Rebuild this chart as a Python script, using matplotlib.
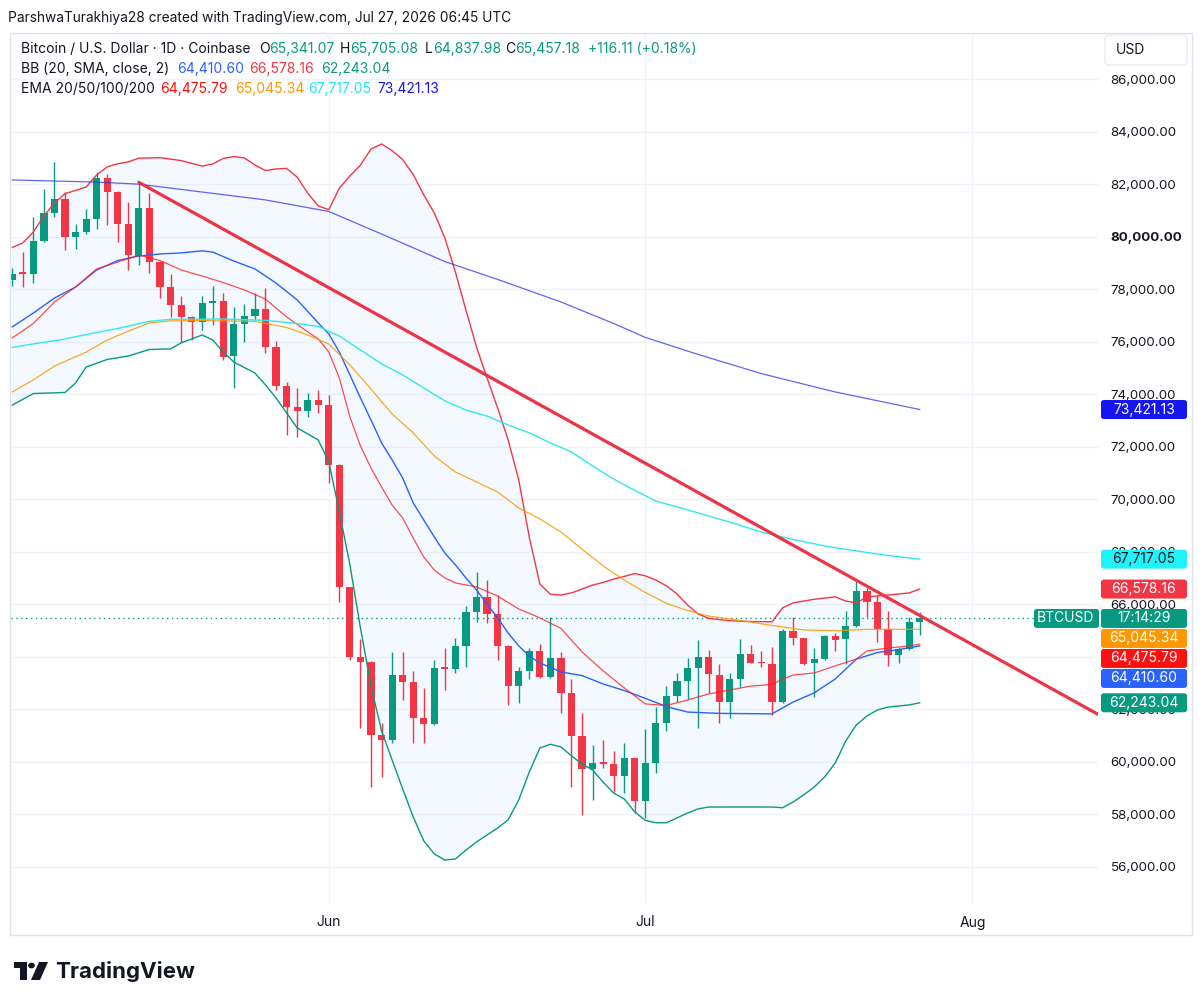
import numpy as np
import matplotlib.pyplot as plt
from matplotlib.patches import FancyBboxPatch, Polygon, Circle, Rectangle

plt.rcParams['font.family'] = ['Inter', 'DejaVu Sans']

W, H = 1204, 1005
GREEN = '#089981'
RED = '#F23645'
TEXT = '#131722'

# daily candles, day 0 = May 2, last candle = Jul 27
opens = [78360, 78670, 78590, 79860, 80920, 81450, 80010, 80200, 80670, 82230,
         81720, 80490, 79270, 81090, 79060, 78100, 77400, 76960, 76770, 77490,
         77570, 75470, 76670, 77000, 77250, 75820, 74320, 73530, 73370, 73780,
         73590, 71310, 66650, 64000, 63790, 61020, 60830, 63300, 63050, 61650,
         61440, 63590, 63520, 64410, 65720, 66260, 65620, 64420, 62880, 63470,
         64230, 63220, 63940, 62630, 60980, 59710, 60000, 59910, 59450, 60130,
         58510, 59940, 61460, 62500, 63070, 63560, 64000, 63300, 62260, 63150,
         64090, 63790, 63720, 62260, 64980, 64700, 63750, 63900, 64790, 64660,
         65180, 66520, 66070, 65040, 64070, 64290, 65341.07]
highs = [78820, 79440, 80770, 81820, 82840, 81720, 80490, 81060, 82460, 82400,
         81750, 81320, 82080, 81660, 79100, 78580, 77760, 76980, 77760, 78130,
         77850, 77340, 77440, 77850, 78040, 76040, 74460, 74230, 74040, 74170,
         73980, 71350, 66660, 64660, 63820, 61460, 64190, 64190, 63470, 62800,
         63870, 64320, 64700, 65930, 67240, 66920, 66350, 64440, 63600, 64320,
         64480, 65530, 64190, 63140, 61840, 60630, 60830, 60420, 60700, 60140,
         61230, 62090, 62880, 63390, 63940, 64640, 64260, 63710, 63370, 64660,
         64450, 64230, 64360, 65040, 65530, 64720, 64320, 64830, 64890, 65750,
         66900, 66610, 66350, 65740, 64360, 65500, 65705.08]
lows = [78130, 78100, 78230, 79800, 80770, 79500, 79540, 80120, 80300, 80450,
        79820, 78740, 78930, 78610, 77660, 76960, 76010, 76070, 76450, 76640,
        75310, 74230, 76010, 76830, 75560, 74170, 72450, 72390, 73150, 73280,
        70610, 66100, 63870, 61270, 59050, 59430, 60700, 62350, 60700, 60700,
        61400, 62730, 63370, 63620, 65330, 65300, 63870, 62160, 62250, 63140,
        63180, 63200, 61840, 59050, 57970, 58540, 59750, 58860, 58790, 58040,
        57840, 59560, 61180, 62260, 62380, 61270, 62610, 61460, 61650, 62860,
        63750, 63600, 61780, 62240, 64450, 63690, 62450, 63870, 64230, 63720,
        65120, 65530, 64570, 63650, 63750, 64260, 64837.98]
closes = [78590, 78590, 79860, 80920, 81450, 80010, 80200, 80670, 82230, 81720,
          80490, 79310, 81090, 79060, 78100, 77400, 76960, 76770, 77490, 77570,
          75440, 76670, 77000, 77250, 75820, 74320, 73530, 73370, 73780, 73590,
          71310, 66650, 64000, 63810, 61020, 60830, 63300, 63050, 61650, 61440,
          63560, 63540, 64410, 65720, 66260, 65620, 64420, 62880, 63470, 64230,
          63220, 63940, 62630, 60980, 59710, 59960, 59910, 59450, 60130, 58510,
          59940, 61460, 62500, 63070, 63560, 64000, 63330, 62260, 63150, 64090,
          63770, 63750, 62260, 64990, 64700, 63720, 63900, 64790, 64640, 65180,
          66520, 66070, 65040, 64070, 64290, 65310, 65457.18]

# Bollinger Bands (20, SMA, close, 2)
bb_up_days = [0, 1, 2, 3, 4, 5, 6, 7, 8, 9, 10, 11, 12, 14, 16, 18, 19, 20, 21, 22,
              23, 24, 25, 26, 27, 28, 29, 30, 31, 32, 33, 34, 35, 36, 37, 38, 39, 40,
              41, 42, 43, 44, 45, 46, 47, 48, 49, 50, 51, 52, 53, 54, 55, 56, 57, 58,
              59, 60, 61, 62, 63, 64, 65, 66, 68, 70, 72, 73, 74, 76, 78, 79, 80, 81,
              83, 85, 86]
bb_up = [79600, 79770, 80190, 80800, 81290, 81650, 81770, 81900, 82360, 82670,
         82790, 82860, 83000, 83020, 82910, 82700, 82780, 82990, 83060, 83010,
         82740, 82530, 82590, 82610, 82280, 81670, 81180, 81040, 81860, 82320,
         82740, 83350, 83540, 83290, 82950, 82380, 81600, 80910, 79960, 78660,
         77210, 75800, 74620, 73480, 72260, 70740, 68560, 66770, 66380, 66350,
         66430, 66580, 66730, 66830, 66960, 67060, 67170, 67080, 66920, 66700,
         66390, 65970, 65630, 65460, 65370, 65340, 65330, 65860, 66050, 66190,
         66280, 66120, 66050, 66280, 66350, 66430, 66578.16]
bb_mid_days = [0, 2, 4, 6, 8, 10, 12, 14, 16, 18, 19, 21, 23, 25, 27, 29, 30, 31, 32,
               33, 34, 35, 36, 37, 38, 39, 40, 41, 42, 43, 44, 45, 46, 47, 48, 49, 50,
               52, 54, 56, 58, 60, 62, 64, 67, 72, 74, 76, 78, 80, 82, 84, 86]
bb_mid = [76570, 77100, 77670, 78090, 78740, 79100, 79270, 79350, 79390, 79470,
          79420, 79080, 78780, 78240, 77600, 76720, 76300, 75610, 74740, 73860,
          73020, 72150, 71500, 70810, 69860, 69210, 68560, 67950, 67500, 67000,
          66540, 66010, 65480, 64900, 64410, 64030, 63760, 63420, 63280, 62960,
          62710, 62410, 62100, 61890, 61840, 61820, 62270, 62620, 63150, 63910,
          64160, 64270, 64410.60]
bb_low_days = [0, 2, 5, 6, 7, 9, 11, 13, 15, 16, 18, 19, 20, 21, 23, 24, 25, 26, 27,
               28, 29, 30, 31, 32, 33, 34, 35, 36, 37, 38, 39, 40, 41, 42, 43, 44, 46,
               47, 48, 49, 50, 51, 52, 53, 54, 55, 56, 57, 58, 59, 60, 61, 62, 64, 65,
               66, 72, 73, 74, 75, 76, 77, 78, 79, 80, 81, 82, 83, 84, 85, 86]
bb_low = [73590, 74030, 74070, 74430, 75040, 75330, 75460, 75710, 75730, 75960,
          76260, 76070, 75610, 75230, 74810, 74360, 73860, 73290, 72720, 72490,
          72260, 71420, 69520, 67500, 65090, 62880, 61170, 60060, 58960, 57890,
          56980, 56480, 56250, 56290, 56630, 56940, 57470, 57780, 58540, 59600,
          60520, 60660, 60560, 60220, 59910, 59680, 59220, 58800, 58580, 58080,
          57760, 57670, 57670, 58040, 58200, 58270, 58270, 58240, 58460, 58730,
          59030, 59420, 59950, 60790, 61400, 61740, 61970, 62080, 62120, 62160,
          62243.04]

# EMA 20/50/100/200
ema20_days = [0, 2, 4, 6, 8, 10, 12, 14, 16, 18, 20, 22, 24, 26, 28, 29, 30, 31, 32,
              33, 34, 35, 36, 37, 38, 39, 40, 41, 42, 44, 46, 48, 50, 52, 54, 56, 58,
              60, 62, 64, 66, 68, 70, 72, 73, 74, 76, 78, 80, 81, 83, 85, 86]
ema20 = [76150, 76700, 77520, 78090, 78780, 79040, 79310, 79100, 78740, 78510,
         78260, 77980, 77630, 76950, 76380, 76110, 75610, 74620, 73140, 72030,
         71190, 70470, 69780, 69290, 68520, 67800, 67300, 67000, 66810, 66660,
         66310, 65820, 65480, 65080, 64180, 63460, 62810, 62200, 62140, 62350,
         62580, 62730, 62880, 62940, 63150, 63300, 63380, 63650, 63910, 64220,
         64330, 64410, 64475.79]
ema50_days = [0, 2, 4, 7, 9, 11, 13, 15, 18, 23, 26, 28, 30, 32, 34, 36, 38, 40, 42,
              44, 46, 48, 50, 52, 54, 56, 58, 60, 62, 64, 66, 69, 72, 75, 78, 81, 84, 86]
ema50 = [74090, 74550, 75080, 75610, 76070, 76410, 76720, 76800, 76810, 76780,
         76550, 76260, 75920, 75120, 74200, 73250, 72530, 71650, 71040, 70660,
         70280, 69670, 69250, 68750, 68100, 67460, 66920, 66450, 66030, 65760,
         65550, 65380, 65190, 65020, 64990, 65040, 65045, 65045.34]
ema100_days = [0, 2, 5, 8, 10, 13, 15, 20, 24, 27, 29, 31, 33, 35, 37, 39, 41, 43, 45,
               47, 49, 51, 53, 55, 57, 59, 61, 63, 65, 68, 71, 74, 77, 80, 83, 86]
ema100 = [75790, 75920, 76110, 76360, 76510, 76780, 76860, 76870, 76820, 76700,
          76590, 76220, 75690, 75160, 74740, 74240, 73750, 73400, 73170, 72830,
          72530, 72150, 71800, 71270, 70770, 70340, 69930, 69710, 69480, 69130,
          68750, 68470, 68220, 68030, 67860, 67717.05]
ema200_days = [0, 8, 12, 18, 24, 30, 35, 41, 46, 52, 57, 60, 65, 71, 78, 86]
ema200 = [82170, 82090, 82010, 81710, 81410, 80970, 80110, 79060, 78380, 77520,
          76700, 76170, 75520, 74790, 74090, 73421.13]

# hand-drawn trend line (from the May 14 high, extended right)
trend_days = [12, 103]
trend_prices = [82080, 61780]

month_days = [30, 60, 91]
month_labels = ['Jun', 'Jul', 'Aug']
price_ticks = list(range(56000, 88000, 2000))

fig = plt.figure(figsize=(W / 100, H / 100), dpi=100)
ax = fig.add_axes([11 / W, 1 - 903 / H, (1098 - 11) / W, (903 - 33) / H])
ax.set_xlim(-0.12, 102.9)
ax.set_ylim(54612, 87772)

# bands
ax.fill(np.concatenate([bb_up_days, bb_low_days[::-1]]),
        np.concatenate([bb_up, bb_low[::-1]]), color='#2196F3', alpha=0.05, lw=0, zorder=1)

# candles
days = np.arange(len(opens))
o = np.array(opens); c = np.array(closes)
col = np.where(c >= o, GREEN, RED)
ax.vlines(days, lows, highs, colors=col, lw=1.0, zorder=3)
ax.bar(days, np.maximum(np.abs(c - o), 40), bottom=np.minimum(o, c), width=0.68,
       color=col, lw=0, zorder=3)

ax.plot(bb_up_days, bb_up, color=RED, lw=1.0, zorder=4)
ax.plot(bb_mid_days, bb_mid, color='#2962FF', lw=1.0, zorder=4)
ax.plot(bb_low_days, bb_low, color=GREEN, lw=1.0, zorder=4)
ax.plot(ema20_days, ema20, color='#FF2020', lw=0.9, alpha=0.8, zorder=4)
ax.plot(ema50_days, ema50, color='#FF9800', lw=0.9, alpha=0.85, zorder=4)
ax.plot(ema100_days, ema100, color='#30E8F2', lw=1.0, zorder=4)
ax.plot(ema200_days, ema200, color='#3030F0', lw=0.9, alpha=0.75, zorder=4)
ax.plot(trend_days, trend_prices, color='#EE3344', lw=2.3, zorder=5, solid_capstyle='round')

last = closes[-1]
ax.axhline(last, xmax=(1034 - 11) / (1098 - 11), color=GREEN, lw=1.0,
           ls=(0, (1, 2.5)), zorder=2)

# axes styling
for s in ax.spines.values():
    s.set_visible(False)
ax.set_yticks(price_ticks, [f'{v:,.2f}' for v in price_ticks])
ax.set_xticks(month_days, month_labels)
ax.yaxis.tick_right()
ax.tick_params(axis='y', length=0, pad=9, labelsize=9.6, labelcolor=TEXT)
ax.tick_params(axis='x', length=0, pad=9, labelsize=10, labelcolor=TEXT)
for t in ax.get_yticklabels():
    if t.get_text() == '80,000.00':
        t.set_fontweight('bold')
ax.grid(True, color='#F0F3FA', lw=1)
ax.set_axisbelow(True)

# chart frame
fig.add_artist(Rectangle((10 / W, 1 - 935 / H), 1182 / W, 902 / H, transform=fig.transFigure,
                         fill=False, ec='#E0E3EB', lw=1))

# price labels on the right scale, stacked like the platform does
labels = [(73421.13, '73,421.13', '#1515F2', 'white'),
          (67717.05, '67,717.05', '#1FF3FA', TEXT),
          (66578.16, '66,578.16', RED, 'white'),
          (last, '17:14:29', GREEN, 'white'),
          (65045.34, '65,045.34', '#FF9800', 'white'),
          (64475.79, '64,475.79', '#FF1010', 'white'),
          (64410.60, '64,410.60', '#2962FF', 'white'),
          (62243.04, '62,243.04', GREEN, 'white')]
prev = None
for v, txt, bg, fg in labels:
    y = ax.transData.transform((0, v))[1]
    if prev is not None and y > prev - 20:
        y = prev - 20
    prev = y
    fig.add_artist(FancyBboxPatch((1101 / W, (y - 9.5) / H), 86 / W, 19 / H,
                                  boxstyle='round,pad=0,rounding_size=0.0025',
                                  transform=fig.transFigure, fc=bg, ec='none', zorder=5))
    fig.text(1144 / W, y / H, txt, ha='center', va='center', color=fg, fontsize=10, zorder=6)
    if txt == '17:14:29':
        fig.add_artist(FancyBboxPatch((1034 / W, (y - 9.5) / H), 65 / W, 19 / H,
                                      boxstyle='round,pad=0,rounding_size=0.0025',
                                      transform=fig.transFigure, fc=GREEN, ec='none', zorder=5))
        fig.text(1066 / W, y / H, 'BTCUSD', ha='center', va='center', color='white',
                 fontsize=10, zorder=6)

# currency box
fig.add_artist(FancyBboxPatch((1105 / W, 1 - 65 / H), 82 / W, 30 / H,
                              boxstyle='round,pad=0,rounding_size=0.004',
                              transform=fig.transFigure, fc='white', ec='#E9ECF2', lw=1))
fig.text(1116 / W, 1 - 50 / H, 'USD', ha='left', va='center', color=TEXT, fontsize=10)

# header and legend
r = fig.canvas.get_renderer()


def chain(x, y, parts, size=10):
    for s, color in parts:
        t = fig.text(x / W, 1 - y / H, s, color=color, fontsize=size, ha='left', va='center')
        x += t.get_window_extent(renderer=r).width


chain(8, 18, [('ParshwaTurakhiya28 created with TradingView.com, Jul 27, 2026 06:45 UTC', TEXT)], 9.9)
chain(21, 49, [('Bitcoin / U.S. Dollar · 1D · Coinbase', TEXT)])
chain(259, 49, [('O', TEXT), ('65,341.07', GREEN)])
chain(340, 49, [('H', TEXT), ('65,705.08', GREEN)])
chain(425, 49, [('L', TEXT), ('64,837.98', GREEN)])
chain(505, 49, [('C', TEXT), ('65,457.18', GREEN)])
chain(588, 49, [('+116.11 (+0.18%)', GREEN)])
chain(21, 69, [('BB (20, SMA, close, 2)', TEXT)])
chain(177, 69, [('64,410.60', '#2962FF')])
chain(249, 69, [('66,578.16', RED)])
chain(321, 69, [('62,243.04', GREEN)])
chain(21, 89, [('EMA 20/50/100/200', TEXT)])
chain(160, 89, [('64,475.79', '#FF1010')])
chain(235, 89, [('65,045.34', '#FF9800')])
chain(308, 89, [('67,717.05', '#22E5F5')])
chain(377, 89, [('73,421.13', '#1515F2')])

# TradingView logo
logo = '#131722'
fig.add_artist(Polygon([(14 / W, 1 - 962 / H), (27 / W, 1 - 962 / H), (27 / W, 1 - 980 / H),
                        (20 / W, 1 - 980 / H), (20 / W, 1 - 968 / H), (14 / W, 1 - 968 / H)],
                       closed=True, transform=fig.transFigure, fc=logo, ec='none'))
fig.add_artist(Circle((31.5 / W, 1 - 965.5 / H), 3.4 / W, transform=fig.transFigure,
                      fc=logo, ec='none'))
fig.add_artist(Polygon([(39 / W, 1 - 962 / H), (48 / W, 1 - 962 / H), (40 / W, 1 - 980 / H),
                        (31 / W, 1 - 980 / H)],
                       closed=True, transform=fig.transFigure, fc=logo, ec='none'))
fig.text(55 / W, 1 - 971 / H, 'TradingView', ha='left', va='center', color=logo,
         fontsize=16, fontweight='bold')

fig.savefig('out.png', dpi=100, facecolor='white')
